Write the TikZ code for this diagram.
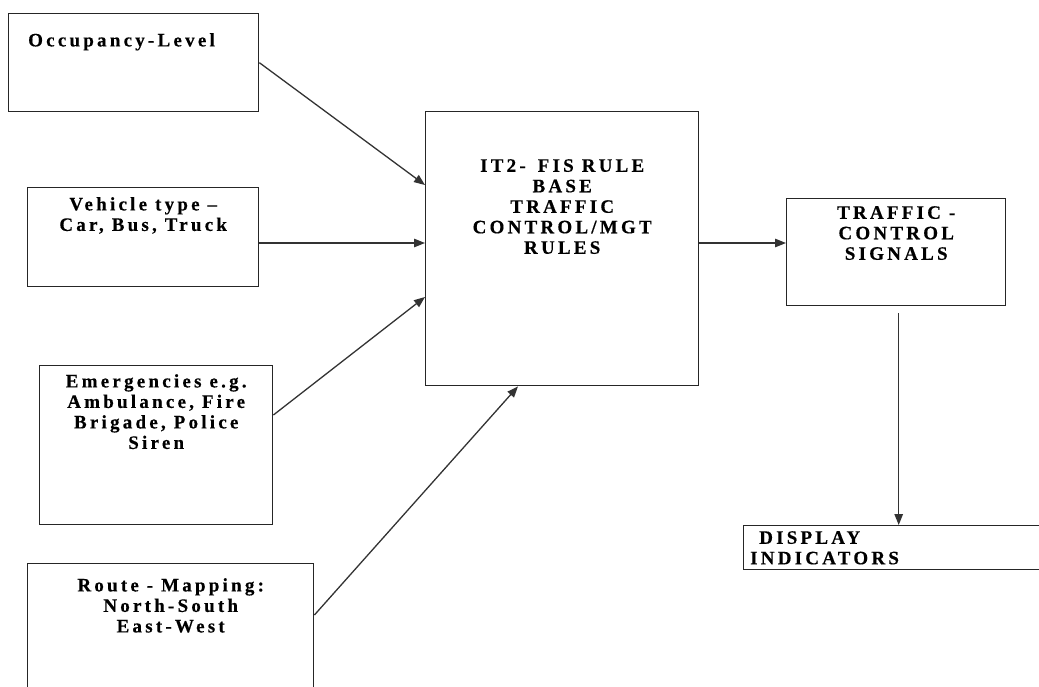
\documentclass[tikz,border=0pt]{standalone}
\usepackage{fontspec}
\setmainfont{Liberation Serif}[LetterSpace=17, BoldFeatures={FakeBold=0.4}]
\usetikzlibrary{calc,arrows.meta}
\begin{document}
\begin{tikzpicture}[x=1pt,y=-1pt,
  box/.style={draw=black!85, line width=1.4pt, inner sep=0, anchor=north west},
  lbl/.style={inner sep=0, anchor=north, align=center, font=\bfseries\fontsize{19}{20.5}\selectfont},
  arr/.style={draw=black!80, line width=1.3pt, -{Triangle[length=11pt,width=8.5pt]}}]
\useasboundingbox (0,0) rectangle (1039,686);
% boxes
\node[box, minimum width=250pt, minimum height=98pt]  (occ) at (8,13) {};
\node[box, minimum width=231pt, minimum height=99pt]  (veh) at (27,187) {};
\node[box, minimum width=233pt, minimum height=159pt] (emg) at (39,365) {};
\node[box, minimum width=286pt, minimum height=140pt] (rte) at (27,563) {};
\node[box, minimum width=273pt, minimum height=274pt] (it2) at (425,111) {};
\node[box, minimum width=219pt, minimum height=107pt] (tcs) at (786,198) {};
\node[box, minimum width=310pt, minimum height=44pt]  (dsp) at (743,525) {};
% labels
\node[lbl, anchor=north west, align=left] (occt) at ($(occ.north west)+(20,20)$) {Occupancy-Level};
\node[lbl] (veht) at ($(veh.north)+(0,10)$) {Vehicle type --\\Car, Bus, Truck};
\node[lbl] (emgt) at ($(emg.north)+(0,9)$) {Emergencies e.g.\\Ambulance, Fire\\Brigade, Police\\Siren};
\node[lbl] (rtet) at ($(rte.north)+(0,15)$) {Route - Mapping:\\North-South\\East-West};
\node[lbl] (it2t) at ($(it2.north)+(0,48)$) {IT2-\hspace{4pt} FIS RULE\\BASE\\TRAFFIC\\CONTROL/MGT\\RULES};
\node[lbl] (tcst) at ($(tcs.north)+(0,8)$) {TRAFFIC -\\CONTROL\\SIGNALS};
\node[lbl, anchor=north west, align=left] (dspt) at ($(dsp.north west)+(7,6)$) {\hspace*{9pt}DISPLAY\\INDICATORS};
% connectors
\draw[arr] (occ.east) -- ($(it2.north west)+(0,74)$);
\draw[arr] ($(veh.north east)+(0,56)$) -- ($(it2.north west)+(0,132)$);
\draw[arr] ($(emg.north east)+(0,50)$) -- ($(it2.north west)+(0,186)$);
\draw[arr] ($(rte.north east)+(0,52)$) -- ($(it2.south west)+(93,0)$);
\draw[arr] ($(it2.north east)+(0,132)$) -- ($(tcs.north west)+(0,45)$);
\coordinate (dstart) at ($(tcs.south)+(2.5,7)$);
\draw[arr] (dstart) -- (dstart |- dsp.north);
\end{tikzpicture}
\end{document}
